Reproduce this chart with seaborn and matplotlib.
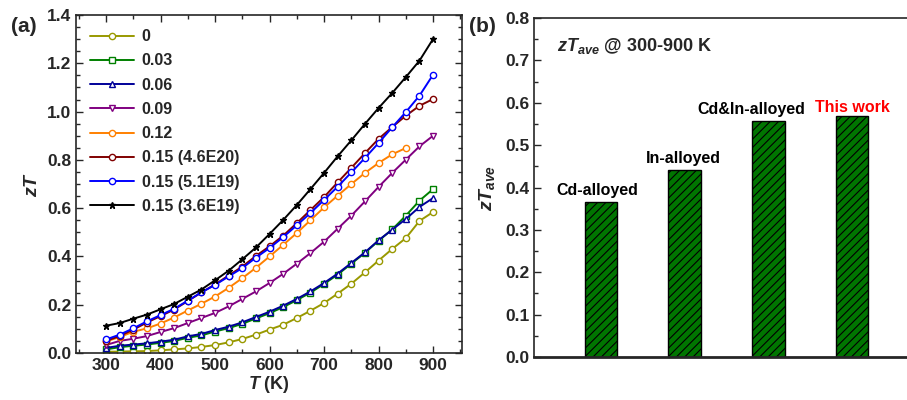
import matplotlib
matplotlib.use("Agg")
import matplotlib.pyplot as plt
import seaborn as sns
import numpy as np
import pandas as pd
from matplotlib.ticker import MultipleLocator

# ---------------- data ----------------
T = [300, 325, 350, 375, 400, 425, 450, 475, 500, 525, 550, 575, 600,
     625, 650, 675, 700, 725, 750, 775, 800, 825, 850, 875, 900]

zt_0 = [0.005, 0.006, 0.007, 0.008, 0.011, 0.015, 0.019, 0.025, 0.033, 0.044,
        0.058, 0.076, 0.097, 0.117, 0.145, 0.175, 0.207, 0.246, 0.287, 0.334,
        0.383, 0.431, 0.476, 0.547, 0.584]
zt_003 = [0.015, 0.024, 0.030, 0.035, 0.042, 0.050, 0.063, 0.073, 0.089, 0.103,
          0.121, 0.143, 0.165, 0.190, 0.219, 0.250, 0.286, 0.325, 0.370, 0.415,
          0.465, 0.512, 0.569, 0.631, 0.679]
zt_006 = [0.021, 0.030, 0.035, 0.040, 0.047, 0.055, 0.069, 0.079, 0.095, 0.109,
          0.127, 0.149, 0.171, 0.196, 0.224, 0.255, 0.290, 0.329, 0.373, 0.417,
          0.467, 0.511, 0.555, 0.605, 0.642]
zt_009 = [0.033, 0.050, 0.059, 0.070, 0.087, 0.103, 0.124, 0.145, 0.166, 0.193,
          0.224, 0.255, 0.290, 0.328, 0.370, 0.414, 0.461, 0.515, 0.569, 0.628,
          0.688, 0.746, 0.801, 0.856, 0.900]
T_012 = T[:-2]
zt_012 = [0.048, 0.066, 0.088, 0.102, 0.122, 0.147, 0.176, 0.204, 0.234, 0.270,
          0.310, 0.353, 0.400, 0.448, 0.497, 0.550, 0.603, 0.652, 0.700, 0.746,
          0.787, 0.823, 0.849]
zt_015a = [0.050, 0.070, 0.097, 0.126, 0.153, 0.180, 0.215, 0.251, 0.284, 0.321,
           0.358, 0.402, 0.442, 0.486, 0.538, 0.592, 0.646, 0.707, 0.767, 0.828,
           0.887, 0.936, 0.983, 1.024, 1.052]
zt_015b = [0.056, 0.076, 0.102, 0.131, 0.157, 0.183, 0.217, 0.251, 0.282, 0.317,
           0.352, 0.395, 0.435, 0.480, 0.529, 0.580, 0.634, 0.689, 0.748, 0.808,
           0.870, 0.935, 0.998, 1.066, 1.153]
zt_015c = [0.113, 0.124, 0.142, 0.159, 0.181, 0.203, 0.233, 0.263, 0.301, 0.341,
           0.388, 0.437, 0.493, 0.551, 0.613, 0.679, 0.746, 0.815, 0.881, 0.949,
           1.015, 1.077, 1.143, 1.211, 1.301]

labels = ["0", "0.03", "0.06", "0.09", "0.12",
          "0.15 (4.6E20)", "0.15 (5.1E19)", "0.15 (3.6E19)"]

bar_cats = ["Cd-alloyed", "In-alloyed", "Cd&In-alloyed", "This work"]
bar_vals = [0.365, 0.441, 0.557, 0.568]

# ---------------- style ----------------
sns.set_style("ticks")
plt.rcParams["font.family"] = ["Liberation Sans", "DejaVu Sans"]
plt.rcParams["font.weight"] = "bold"
plt.rcParams["mathtext.fontset"] = "custom"
plt.rcParams["mathtext.it"] = "Liberation Sans:italic:bold"
plt.rcParams["mathtext.rm"] = "Liberation Sans:bold"
plt.rcParams["mathtext.bf"] = "Liberation Sans:bold"
plt.rcParams["hatch.linewidth"] = 0.8

fig = plt.figure(figsize=(9.07, 4.0), dpi=100)
ax1 = fig.add_axes([0.0838, 0.1175, 0.4256, 0.845])
ax2 = fig.add_axes([0.5888, 0.1075, 0.4245, 0.8475])

series = [
    (T, zt_0, "#999900", "o", "white"),
    (T, zt_003, "#008000", "s", "white"),
    (T, zt_006, "#000099", "^", "white"),
    (T, zt_009, "#800080", "v", "white"),
    (T_012, zt_012, "#FF8000", "o", "white"),
    (T, zt_015a, "#800000", "o", "white"),
    (T, zt_015b, "#0000FF", "o", "white"),
    (T, zt_015c, "#000000", "*", "#000000"),
]

for (x, y, c, m, fc), lab in zip(series, labels):
    sns.lineplot(x=x, y=y, ax=ax1, color=c, marker=m, markersize=4.5 if m != "*" else 5,
                 markerfacecolor=fc, markeredgecolor=c, markeredgewidth=1.0,
                 linewidth=1.4, label=lab)

ax1.set_xlim(245, 953)
ax1.set_ylim(0, 1.4)
ax1.xaxis.set_major_locator(MultipleLocator(100))
ax1.xaxis.set_minor_locator(MultipleLocator(50))
ax1.yaxis.set_major_locator(MultipleLocator(0.2))
ax1.yaxis.set_minor_locator(MultipleLocator(0.05))
ax1.yaxis.set_major_formatter(matplotlib.ticker.FormatStrFormatter("%.1f"))
ax1.tick_params(which="both", direction="in", top=True, right=True, width=1.0,
                labelsize=12.5)
ax1.tick_params(which="major", length=5)
ax1.tick_params(which="minor", length=3)
for lab in ax1.get_xticklabels() + ax1.get_yticklabels():
    lab.set_fontweight("bold")
for s in ax1.spines.values():
    s.set_linewidth(1.2)
ax1.set_xlabel("$T$ (K)", fontsize=13, fontweight="bold", labelpad=1)
ax1.set_ylabel("$zT$", fontsize=14, fontweight="bold", labelpad=4)
leg = ax1.legend(loc="upper left", frameon=False, fontsize=11.5, handlelength=2.8,
                 labelspacing=0.58, borderaxespad=0.0, bbox_to_anchor=(0.025, 0.97),
                 handletextpad=0.45, borderpad=0.25)
for t in leg.get_texts():
    t.set_fontweight("bold")
fig.text(0.012, 0.935, "(a)", fontsize=15, fontweight="bold", va="center")

# ---------------- bars ----------------
df = pd.DataFrame({"cat": bar_cats, "val": bar_vals})
sns.barplot(data=df, x="cat", y="val", ax=ax2, color="#007500", width=0.39,
            saturation=1, edgecolor="black", linewidth=1.0)
for p in ax2.patches:
    p.set_hatch("////")
    p.set_edgecolor("black")
ax2.set_xlim(-0.8, 3.8)
ax2.set_ylim(0, 0.8)
ax2.yaxis.set_major_locator(MultipleLocator(0.1))
ax2.yaxis.set_minor_locator(MultipleLocator(0.05))
ax2.yaxis.set_major_formatter(matplotlib.ticker.FormatStrFormatter("%.1f"))
ax2.tick_params(axis="y", which="both", direction="in", width=1.0, labelsize=12.5)
ax2.tick_params(axis="y", which="major", length=5)
ax2.tick_params(axis="y", which="minor", length=3)
ax2.tick_params(axis="x", bottom=False, labelbottom=False)
for lab in ax2.get_yticklabels():
    lab.set_fontweight("bold")
ax2.set_xlabel("")
ax2.set_ylabel("$zT_{ave}$", fontsize=14, fontweight="bold", labelpad=6)
ax2.spines["right"].set_visible(False)
ax2.spines["left"].set_linewidth(1.2)
ax2.spines["top"].set_linewidth(1.2)
ax2.spines["bottom"].set_linewidth(2.0)

offsets = [(-3, 3), (-1, 3), (-12, 3), (0, 1)]
colors = ["black", "black", "black", "red"]
for i, (cat, v) in enumerate(zip(bar_cats, bar_vals)):
    ax2.annotate(cat, xy=(i, v), xytext=offsets[i], textcoords="offset points",
                 ha="center", va="bottom", fontsize=11.5, fontweight="bold",
                 color=colors[i])
ax2.text(0.06, 0.918, "$zT_{ave}$ @ 300-900 K", transform=ax2.transAxes,
         fontsize=13, fontweight="bold", va="center", ha="left")
fig.text(0.517, 0.935, "(b)", fontsize=15, fontweight="bold", va="center")

fig.savefig("out.png", dpi=100)
